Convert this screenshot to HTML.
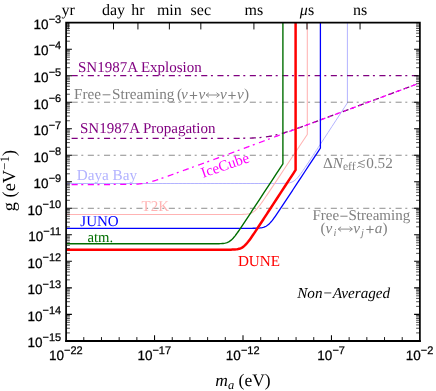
<!DOCTYPE html>
<html><head><meta charset="utf-8"><title>plot</title>
<style>html,body{margin:0;padding:0;background:#fff;}svg{display:block;will-change:transform;text-rendering:geometricPrecision;}text{font-family:"Liberation Serif",serif;}.tk{font-family:"Liberation Sans",sans-serif;font-size:13.5px;fill:#000;stroke:#000;stroke-width:0.25px;}.sup{font-size:11px;}</style></head><body>
<svg width="436" height="391" viewBox="0 0 436 391">
<rect width="436" height="391" fill="#fff"/>
<defs><clipPath id="c"><rect x="66.1" y="22.65" width="353.79999999999995" height="318.24"/></clipPath></defs>
<g clip-path="url(#c)" fill="none" stroke-linejoin="miter">
<path d="M66.10,183.50 L70.10,183.50 L74.10,183.50 L78.10,183.50 L82.10,183.50 L86.10,183.50 L90.10,183.50 L94.10,183.50 L98.10,183.50 L102.10,183.50 L106.10,183.50 L110.10,183.50 L114.10,183.50 L118.10,183.50 L122.10,183.50 L126.10,183.50 L130.10,183.50 L134.10,183.50 L138.10,183.50 L142.10,183.50 L146.10,183.50 L150.10,183.50 L154.10,183.50 L158.10,183.50 L162.10,183.50 L166.10,183.50 L170.10,183.50 L174.10,183.50 L178.10,183.50 L182.10,183.50 L186.10,183.50 L190.10,183.50 L194.10,183.50 L198.10,183.50 L202.10,183.50 L206.10,183.50 L210.10,183.50 L214.10,183.50 L218.10,183.50 L222.10,183.50 L226.10,183.50 L230.10,183.50 L234.10,183.50 L238.10,183.50 L242.10,183.50 L246.10,183.50 L250.10,183.50 L254.10,183.50 L258.10,183.50 L262.10,183.50 L266.10,183.50 L270.10,183.50 L271.10,183.50 L272.10,183.50 L273.10,183.50 L274.10,183.50 L275.10,183.49 L276.10,183.49 L277.10,183.49 L278.10,183.49 L279.10,183.48 L280.10,183.47 L281.10,183.46 L282.10,183.44 L283.10,183.42 L284.10,183.39 L285.10,183.34 L286.10,183.28 L287.10,183.19 L288.10,183.07 L289.10,182.91 L290.10,182.68 L291.10,182.38 L292.10,182.00 L293.10,181.50 L294.10,180.88 L295.10,180.13 L296.10,179.25 L297.10,178.24 L298.10,177.13 L299.10,175.92 L300.10,174.63 L301.10,173.28 L302.10,171.88 L303.10,170.44 L304.10,168.98 L305.10,167.50 L306.10,166.00 L307.10,164.50 L308.10,162.99 L309.10,161.47 L310.10,159.95 L311.10,158.42 L312.10,156.90 L313.10,155.37 L314.10,153.84 L315.10,152.32 L316.10,150.79 L317.10,149.26 L318.10,147.73 L319.10,146.20 L320.10,144.67 L324.10,138.55 L328.10,132.43 L332.10,126.31 L336.10,120.19 L340.10,114.07 L344.10,107.95 L347.40,102.90 L347.40,22.65" stroke="#b3b3ff" stroke-width="1.0"/>
<path d="M66.10,214.50 L70.10,214.50 L74.10,214.50 L78.10,214.50 L82.10,214.50 L86.10,214.50 L90.10,214.50 L94.10,214.50 L98.10,214.50 L102.10,214.50 L106.10,214.50 L110.10,214.50 L114.10,214.50 L118.10,214.50 L122.10,214.50 L126.10,214.50 L130.10,214.50 L134.10,214.50 L138.10,214.50 L142.10,214.50 L146.10,214.50 L150.10,214.50 L154.10,214.50 L158.10,214.50 L162.10,214.50 L166.10,214.50 L170.10,214.50 L174.10,214.50 L178.10,214.50 L182.10,214.50 L186.10,214.50 L190.10,214.50 L194.10,214.50 L198.10,214.50 L202.10,214.50 L206.10,214.50 L210.10,214.50 L214.10,214.50 L218.10,214.50 L222.10,214.50 L226.10,214.50 L230.10,214.50 L231.10,214.50 L232.10,214.50 L233.10,214.50 L234.10,214.50 L235.10,214.49 L236.10,214.49 L237.10,214.49 L238.10,214.48 L239.10,214.47 L240.10,214.46 L241.10,214.45 L242.10,214.42 L243.10,214.39 L244.10,214.35 L245.10,214.30 L246.10,214.21 L247.10,214.10 L248.10,213.95 L249.10,213.75 L250.10,213.48 L251.10,213.13 L252.10,212.67 L253.10,212.10 L254.10,211.41 L255.10,210.59 L256.10,209.65 L257.10,208.60 L258.10,207.44 L259.10,206.20 L260.10,204.90 L261.10,203.54 L262.10,202.14 L263.10,200.72 L264.10,199.27 L265.10,197.81 L266.10,196.33 L267.10,194.85 L268.10,193.36 L269.10,191.86 L270.10,190.37 L271.10,188.87 L272.10,187.37 L273.10,185.86 L274.10,184.36 L275.10,182.86 L276.10,181.35 L277.10,179.85 L278.10,178.34 L279.10,176.84 L283.10,170.82 L287.10,164.80 L291.10,158.78 L295.10,152.76 L299.10,146.74 L303.10,140.72 L307.10,134.70 L307.30,134.40 L307.30,22.65" stroke="#ffb3b3" stroke-width="1.05"/>
<path d="M66.1,102.21 H419.9" stroke="#808080" stroke-width="0.9" stroke-dasharray="2 4.5 6.1 3.6" stroke-dashoffset="1"/>
<path d="M66.1,155.25 H419.9" stroke="#808080" stroke-width="0.9" stroke-dasharray="2 4.5 6.1 3.6" stroke-dashoffset="1"/>
<path d="M66.1,208.29 H419.9" stroke="#808080" stroke-width="0.9" stroke-dasharray="2 4.5 6.1 3.6" stroke-dashoffset="1"/>
<path d="M66.1,75.69 H419.9" stroke="#800080" stroke-width="1.3" stroke-dasharray="2 4.5 6.1 3.6" stroke-dashoffset="1"/>
<path d="M66.10,138.40 L67.10,138.40 L68.10,138.40 L69.10,138.40 L70.10,138.40 L71.10,138.40 L72.10,138.40 L73.10,138.40 L74.10,138.40 L75.10,138.40 L76.10,138.40 L77.10,138.40 L78.10,138.40 L79.10,138.40 L80.10,138.40 L81.10,138.40 L82.10,138.40 L83.10,138.40 L84.10,138.40 L85.10,138.40 L86.10,138.40 L87.10,138.40 L88.10,138.40 L89.10,138.40 L90.10,138.40 L91.10,138.40 L92.10,138.40 L93.10,138.40 L94.10,138.40 L95.10,138.40 L96.10,138.40 L97.10,138.40 L98.10,138.40 L99.10,138.40 L100.10,138.40 L101.10,138.40 L102.10,138.40 L103.10,138.40 L104.10,138.40 L105.10,138.40 L106.10,138.40 L107.10,138.40 L108.10,138.40 L109.10,138.40 L110.10,138.40 L111.10,138.40 L112.10,138.40 L113.10,138.40 L114.10,138.40 L115.10,138.40 L116.10,138.40 L117.10,138.40 L118.10,138.40 L119.10,138.40 L120.10,138.40 L121.10,138.40 L122.10,138.40 L123.10,138.40 L124.10,138.40 L125.10,138.40 L126.10,138.40 L127.10,138.40 L128.10,138.40 L129.10,138.40 L130.10,138.40 L131.10,138.40 L132.10,138.40 L133.10,138.40 L134.10,138.40 L135.10,138.40 L136.10,138.40 L137.10,138.40 L138.10,138.40 L139.10,138.40 L140.10,138.40 L141.10,138.40 L142.10,138.40 L143.10,138.40 L144.10,138.40 L145.10,138.40 L146.10,138.40 L147.10,138.40 L148.10,138.40 L149.10,138.40 L150.10,138.40 L151.10,138.40 L152.10,138.40 L153.10,138.40 L154.10,138.40 L155.10,138.40 L156.10,138.40 L157.10,138.40 L158.10,138.40 L159.10,138.40 L160.10,138.40 L161.10,138.40 L162.10,138.40 L163.10,138.40 L164.10,138.40 L165.10,138.40 L166.10,138.40 L167.10,138.40 L168.10,138.40 L169.10,138.40 L170.10,138.40 L171.10,138.40 L172.10,138.40 L173.10,138.40 L174.10,138.40 L175.10,138.40 L176.10,138.40 L177.10,138.40 L178.10,138.40 L179.10,138.40 L180.10,138.40 L181.10,138.40 L182.10,138.40 L183.10,138.40 L184.10,138.40 L185.10,138.40 L186.10,138.40 L187.10,138.40 L188.10,138.40 L189.10,138.40 L190.10,138.40 L191.10,138.40 L192.10,138.40 L193.10,138.40 L194.10,138.40 L195.10,138.40 L196.10,138.40 L197.10,138.40 L198.10,138.40 L199.10,138.40 L200.10,138.40 L201.10,138.40 L202.10,138.40 L203.10,138.40 L204.10,138.40 L205.10,138.40 L206.10,138.40 L207.10,138.40 L208.10,138.40 L209.10,138.40 L210.10,138.40 L211.10,138.40 L212.10,138.40 L213.10,138.40 L214.10,138.39 L215.10,138.39 L216.10,138.39 L217.10,138.39 L218.10,138.39 L219.10,138.39 L220.10,138.39 L221.10,138.39 L222.10,138.39 L223.10,138.38 L224.10,138.38 L225.10,138.38 L226.10,138.38 L227.10,138.38 L228.10,138.37 L229.10,138.37 L230.10,138.37 L231.10,138.36 L232.10,138.36 L233.10,138.35 L234.10,138.35 L235.10,138.34 L236.10,138.33 L237.10,138.33 L238.10,138.32 L239.10,138.31 L240.10,138.30 L241.10,138.29 L242.10,138.27 L243.10,138.26 L244.10,138.24 L245.10,138.22 L246.10,138.20 L247.10,138.18 L248.10,138.15 L249.10,138.13 L250.10,138.09 L251.10,138.06 L252.10,138.02 L253.10,137.98 L254.10,137.93 L255.10,137.88 L256.10,137.82 L257.10,137.76 L258.10,137.69 L259.10,137.62 L260.10,137.53 L261.10,137.44 L262.10,137.35 L263.10,137.24 L264.10,137.13 L265.10,137.00 L266.10,136.87 L267.10,136.73 L268.10,136.57 L269.10,136.41 L270.10,136.24 L271.10,136.05 L272.10,135.86 L273.10,135.65 L274.10,135.44 L275.10,135.21 L276.10,134.98 L277.10,134.73 L278.10,134.48 L279.10,134.21 L280.10,133.94 L281.10,133.66 L282.10,133.37 L283.10,133.08 L284.10,132.78 L285.10,132.47 L286.10,132.16 L287.10,131.84 L288.10,131.52 L289.10,131.19 L290.10,130.86 L291.10,130.52 L292.10,130.18 L293.10,129.84 L294.10,129.49 L295.10,129.15 L296.10,128.80 L297.10,128.44 L298.10,128.09 L299.10,127.73 L300.10,127.38 L301.10,127.02 L302.10,126.66 L303.10,126.29 L304.10,125.93 L305.10,125.57 L306.10,125.20 L307.10,124.84 L308.10,124.47 L309.10,124.11 L310.10,123.74 L311.10,123.37 L312.10,123.00 L313.10,122.64 L314.10,122.27 L315.10,121.90 L316.10,121.53 L317.10,121.16 L318.10,120.79 L319.10,120.42 L320.10,120.05 L321.10,119.68 L322.10,119.31 L323.10,118.94 L324.10,118.57 L325.10,118.20 L326.10,117.83 L327.10,117.46 L328.10,117.09 L329.10,116.71 L330.10,116.34 L331.10,115.97 L332.10,115.60 L333.10,115.23 L334.10,114.86 L335.10,114.49 L336.10,114.12 L337.10,113.75 L338.10,113.37 L339.10,113.00 L340.10,112.63 L341.10,112.26 L342.10,111.89 L343.10,111.52 L344.10,111.15 L345.10,110.77 L346.10,110.40 L347.10,110.03 L348.10,109.66 L349.10,109.29 L350.10,108.92 L351.10,108.55 L352.10,108.17 L353.10,107.80 L354.10,107.43 L355.10,107.06 L356.10,106.69 L357.10,106.32 L358.10,105.95 L359.10,105.57 L360.10,105.20 L361.10,104.83 L362.10,104.46 L363.10,104.09 L364.10,103.72 L365.10,103.35 L366.10,102.97 L367.10,102.60 L368.10,102.23 L369.10,101.86 L370.10,101.49 L371.10,101.12 L372.10,100.74 L373.10,100.37 L374.10,100.00 L375.10,99.63 L376.10,99.26 L377.10,98.89 L378.10,98.52 L379.10,98.14 L380.10,97.77 L381.10,97.40 L382.10,97.03 L383.10,96.66 L384.10,96.29 L385.10,95.92 L386.10,95.54 L387.10,95.17 L388.10,94.80 L389.10,94.43 L390.10,94.06 L391.10,93.69 L392.10,93.31 L393.10,92.94 L394.10,92.57 L395.10,92.20 L396.10,91.83 L397.10,91.46 L398.10,91.09 L399.10,90.71 L400.10,90.34 L401.10,89.97 L402.10,89.60 L403.10,89.23 L404.10,88.86 L405.10,88.49 L406.10,88.11 L407.10,87.74 L408.10,87.37 L409.10,87.00 L410.10,86.63 L411.10,86.26 L412.10,85.88 L413.10,85.51 L414.10,85.14 L415.10,84.77 L416.10,84.40 L417.10,84.03 L418.10,83.66 L419.10,83.28" stroke="#800080" stroke-width="1.3" stroke-dasharray="2 4.5 6.1 3.6" stroke-dashoffset="1"/>
<path d="M66.10,184.50 L67.10,184.50 L68.10,184.50 L69.10,184.50 L70.10,184.50 L71.10,184.50 L72.10,184.50 L73.10,184.50 L74.10,184.50 L75.10,184.50 L76.10,184.50 L77.10,184.50 L78.10,184.50 L79.10,184.50 L80.10,184.50 L81.10,184.50 L82.10,184.50 L83.10,184.50 L84.10,184.50 L85.10,184.50 L86.10,184.50 L87.10,184.50 L88.10,184.50 L89.10,184.50 L90.10,184.50 L91.10,184.50 L92.10,184.50 L93.10,184.50 L94.10,184.50 L95.10,184.50 L96.10,184.50 L97.10,184.50 L98.10,184.50 L99.10,184.50 L100.10,184.50 L101.10,184.50 L102.10,184.50 L103.10,184.50 L104.10,184.50 L105.10,184.50 L106.10,184.50 L107.10,184.50 L108.10,184.50 L109.10,184.50 L110.10,184.50 L111.10,184.50 L112.10,184.50 L113.10,184.50 L114.10,184.49 L115.10,184.49 L116.10,184.49 L117.10,184.49 L118.10,184.49 L119.10,184.49 L120.10,184.48 L121.10,184.48 L122.10,184.47 L123.10,184.47 L124.10,184.46 L125.10,184.46 L126.10,184.45 L127.10,184.44 L128.10,184.42 L129.10,184.41 L130.10,184.39 L131.10,184.36 L132.10,184.34 L133.10,184.31 L134.10,184.27 L135.10,184.22 L136.10,184.17 L137.10,184.11 L138.10,184.03 L139.10,183.95 L140.10,183.85 L141.10,183.74 L142.10,183.62 L143.10,183.47 L144.10,183.31 L145.10,183.14 L146.10,182.95 L147.10,182.74 L148.10,182.51 L149.10,182.27 L150.10,182.01 L151.10,181.74 L152.10,181.46 L153.10,181.16 L154.10,180.86 L155.10,180.55 L156.10,180.23 L157.10,179.90 L158.10,179.57 L159.10,179.23 L160.10,178.89 L161.10,178.54 L162.10,178.19 L163.10,177.84 L164.10,177.49 L165.10,177.14 L166.10,176.78 L167.10,176.42 L168.10,176.07 L169.10,175.71 L170.10,175.35 L171.10,174.99 L172.10,174.63 L173.10,174.27 L174.10,173.90 L175.10,173.54 L176.10,173.18 L177.10,172.82 L178.10,172.46 L179.10,172.09 L180.10,171.73 L181.10,171.37 L182.10,171.01 L183.10,170.64 L184.10,170.28 L185.10,169.92 L186.10,169.55 L187.10,169.19 L188.10,168.83 L189.10,168.47 L190.10,168.10 L191.10,167.74 L192.10,167.38 L193.10,167.01 L194.10,166.65 L195.10,166.29 L196.10,165.93 L197.10,165.56 L198.10,165.20 L199.10,164.84 L200.10,164.47 L201.10,164.11 L202.10,163.75 L203.10,163.38 L204.10,163.02 L205.10,162.66 L206.10,162.30 L207.10,161.93 L208.10,161.57 L209.10,161.21 L210.10,160.84 L211.10,160.48 L212.10,160.12 L213.10,159.75 L214.10,159.39 L215.10,159.03 L216.10,158.67 L217.10,158.30 L218.10,157.94 L219.10,157.58 L220.10,157.21 L221.10,156.84 L222.10,156.47 L223.10,156.10 L224.10,155.73 L225.10,155.36 L226.10,154.98 L227.10,154.61 L228.10,154.24 L229.10,153.87 L230.10,153.50 L231.10,153.13 L232.10,152.75 L233.10,152.38 L234.10,152.01 L235.10,151.64 L236.10,151.27 L237.10,150.90 L238.10,150.53 L239.10,150.15 L240.10,149.78 L241.10,149.41 L242.10,149.04 L243.10,148.67 L244.10,148.30 L245.10,147.93 L246.10,147.55 L247.10,147.18 L248.10,146.81 L249.10,146.44 L250.10,146.07 L251.10,145.70 L252.10,145.32 L253.10,144.95 L254.10,144.58 L255.10,144.21 L256.10,143.84 L257.10,143.47 L258.10,143.10 L259.10,142.72 L260.10,142.35 L261.10,141.98 L262.10,141.61 L263.10,141.24 L264.10,140.87 L265.10,140.50 L266.10,140.12 L267.10,139.75 L268.10,139.38 L269.10,139.01 L270.10,138.64 L271.10,138.27 L272.10,137.89 L273.10,137.52 L274.10,137.15 L275.10,136.78 L276.10,136.41 L277.10,136.04 L278.10,135.67 L279.10,135.29 L280.10,134.92 L281.10,134.55 L282.10,134.18 L283.10,133.81 L284.10,133.44 L285.10,133.07 L286.10,132.69 L287.10,132.32 L288.10,131.95 L289.10,131.58 L290.10,131.21 L291.10,130.84 L292.10,130.46 L293.10,130.09 L294.10,129.72 L295.10,129.35 L296.10,128.98 L297.10,128.61 L298.10,128.24 L299.10,127.86 L300.10,127.49 L301.10,127.12 L302.10,126.75 L303.10,126.38 L304.10,126.01 L305.10,125.64 L306.10,125.26 L307.10,124.89 L308.10,124.52 L309.10,124.15 L310.10,123.78 L311.10,123.41 L312.10,123.03 L313.10,122.66 L314.10,122.29 L315.10,121.92 L316.10,121.55 L317.10,121.18 L318.10,120.81 L319.10,120.43 L320.10,120.06 L321.10,119.69 L322.10,119.32 L323.10,118.95 L324.10,118.58 L325.10,118.21 L326.10,117.83 L327.10,117.46 L328.10,117.09 L329.10,116.72 L330.10,116.35 L331.10,115.98 L332.10,115.60 L333.10,115.23 L334.10,114.86 L335.10,114.49 L336.10,114.12 L337.10,113.75 L338.10,113.38 L339.10,113.00 L340.10,112.63 L341.10,112.26 L342.10,111.89 L343.10,111.52 L344.10,111.15 L345.10,110.78 L346.10,110.40 L347.10,110.03 L348.10,109.66 L349.10,109.29 L350.10,108.92 L351.10,108.55 L352.10,108.17 L353.10,107.80 L354.10,107.43 L355.10,107.06 L356.10,106.69 L357.10,106.32 L358.10,105.95 L359.10,105.57 L360.10,105.20 L361.10,104.83 L362.10,104.46 L363.10,104.09 L364.10,103.72 L365.10,103.35 L366.10,102.97 L367.10,102.60 L368.10,102.23 L369.10,101.86 L370.10,101.49 L371.10,101.12 L372.10,100.74 L373.10,100.37 L374.10,100.00 L375.10,99.63 L376.10,99.26 L377.10,98.89 L378.10,98.52 L379.10,98.14 L380.10,97.77 L381.10,97.40 L382.10,97.03 L383.10,96.66 L384.10,96.29 L385.10,95.92 L386.10,95.54 L387.10,95.17 L388.10,94.80 L389.10,94.43 L390.10,94.06 L391.10,93.69 L392.10,93.31 L393.10,92.94 L394.10,92.57 L395.10,92.20 L396.10,91.83 L397.10,91.46 L398.10,91.09 L399.10,90.71 L400.10,90.34 L401.10,89.97 L402.10,89.60 L403.10,89.23 L404.10,88.86 L405.10,88.49 L406.10,88.11 L407.10,87.74 L408.10,87.37 L409.10,87.00 L410.10,86.63 L411.10,86.26 L412.10,85.88 L413.10,85.51 L414.10,85.14 L415.10,84.77 L416.10,84.40 L417.10,84.03 L418.10,83.66 L419.10,83.28" stroke="#ff00ff" stroke-width="1.25" stroke-dasharray="2 4.5 6.1 3.6" stroke-dashoffset="1"/>
<path d="M66.10,228.30 L70.10,228.30 L74.10,228.30 L78.10,228.30 L82.10,228.30 L86.10,228.30 L90.10,228.30 L94.10,228.30 L98.10,228.30 L102.10,228.30 L106.10,228.30 L110.10,228.30 L114.10,228.30 L118.10,228.30 L122.10,228.30 L126.10,228.30 L130.10,228.30 L134.10,228.30 L138.10,228.30 L142.10,228.30 L146.10,228.30 L150.10,228.30 L154.10,228.30 L158.10,228.30 L162.10,228.30 L166.10,228.30 L170.10,228.30 L174.10,228.30 L178.10,228.30 L182.10,228.30 L186.10,228.30 L190.10,228.30 L194.10,228.30 L198.10,228.30 L202.10,228.30 L206.10,228.30 L210.10,228.30 L214.10,228.30 L218.10,228.30 L222.10,228.30 L226.10,228.30 L230.10,228.30 L234.10,228.30 L238.10,228.30 L242.10,228.30 L246.10,228.30 L247.10,228.30 L248.10,228.29 L249.10,228.29 L250.10,228.29 L251.10,228.28 L252.10,228.28 L253.10,228.27 L254.10,228.26 L255.10,228.24 L256.10,228.21 L257.10,228.18 L258.10,228.13 L259.10,228.06 L260.10,227.97 L261.10,227.84 L262.10,227.67 L263.10,227.43 L264.10,227.12 L265.10,226.72 L266.10,226.21 L267.10,225.57 L268.10,224.81 L269.10,223.92 L270.10,222.90 L271.10,221.78 L272.10,220.57 L273.10,219.28 L274.10,217.93 L275.10,216.53 L276.10,215.10 L277.10,213.65 L278.10,212.18 L279.10,210.69 L280.10,209.20 L281.10,207.69 L282.10,206.19 L283.10,204.67 L284.10,203.16 L285.10,201.65 L286.10,200.13 L287.10,198.61 L288.10,197.09 L289.10,195.57 L290.10,194.05 L291.10,192.53 L292.10,191.02 L293.10,189.50 L297.10,183.42 L301.10,177.34 L305.10,171.26 L309.10,165.18 L313.10,159.10 L317.10,153.02 L320.40,148.00 L320.40,22.65" stroke="#0000ff" stroke-width="1.3"/>
<path d="M66.10,243.80 L70.10,243.80 L74.10,243.80 L78.10,243.80 L82.10,243.80 L86.10,243.80 L90.10,243.80 L94.10,243.80 L98.10,243.80 L102.10,243.80 L106.10,243.80 L110.10,243.80 L114.10,243.80 L118.10,243.80 L122.10,243.80 L126.10,243.80 L130.10,243.80 L134.10,243.80 L138.10,243.80 L142.10,243.80 L146.10,243.80 L150.10,243.80 L154.10,243.80 L158.10,243.80 L162.10,243.80 L166.10,243.80 L170.10,243.80 L174.10,243.80 L178.10,243.80 L182.10,243.80 L186.10,243.80 L190.10,243.80 L194.10,243.80 L198.10,243.80 L202.10,243.80 L206.10,243.80 L207.10,243.80 L208.10,243.80 L209.10,243.80 L210.10,243.80 L211.10,243.79 L212.10,243.79 L213.10,243.79 L214.10,243.78 L215.10,243.78 L216.10,243.77 L217.10,243.75 L218.10,243.74 L219.10,243.71 L220.10,243.67 L221.10,243.62 L222.10,243.55 L223.10,243.46 L224.10,243.32 L225.10,243.14 L226.10,242.89 L227.10,242.57 L228.10,242.15 L229.10,241.61 L230.10,240.96 L231.10,240.17 L232.10,239.25 L233.10,238.22 L234.10,237.08 L235.10,235.84 L236.10,234.54 L237.10,233.18 L238.10,231.77 L239.10,230.33 L240.10,228.87 L241.10,227.39 L242.10,225.90 L243.10,224.40 L244.10,222.89 L245.10,221.38 L246.10,219.86 L247.10,218.35 L248.10,216.83 L249.10,215.30 L250.10,213.78 L251.10,212.26 L252.10,210.74 L253.10,209.21 L254.10,207.69 L255.10,206.17 L256.10,204.64 L260.10,198.55 L264.10,192.45 L268.10,186.36 L272.10,180.26 L276.10,174.16 L280.10,168.07 L282.90,163.80 L282.90,22.65" stroke="#006e00" stroke-width="1.4"/>
<path d="M66.10,249.70 L70.10,249.70 L74.10,249.70 L78.10,249.70 L82.10,249.70 L86.10,249.70 L90.10,249.70 L94.10,249.70 L98.10,249.70 L102.10,249.70 L106.10,249.70 L110.10,249.70 L114.10,249.70 L118.10,249.70 L122.10,249.70 L126.10,249.70 L130.10,249.70 L134.10,249.70 L138.10,249.70 L142.10,249.70 L146.10,249.70 L150.10,249.70 L154.10,249.70 L158.10,249.70 L162.10,249.70 L166.10,249.70 L170.10,249.70 L174.10,249.70 L178.10,249.70 L182.10,249.70 L186.10,249.70 L190.10,249.70 L194.10,249.70 L198.10,249.70 L202.10,249.70 L206.10,249.70 L210.10,249.70 L214.10,249.70 L218.10,249.70 L222.10,249.70 L223.10,249.70 L224.10,249.69 L225.10,249.69 L226.10,249.69 L227.10,249.68 L228.10,249.68 L229.10,249.67 L230.10,249.66 L231.10,249.64 L232.10,249.61 L233.10,249.58 L234.10,249.53 L235.10,249.46 L236.10,249.37 L237.10,249.23 L238.10,249.06 L239.10,248.82 L240.10,248.50 L241.10,248.08 L242.10,247.56 L243.10,246.91 L244.10,246.13 L245.10,245.21 L246.10,244.18 L247.10,243.04 L248.10,241.81 L249.10,240.50 L250.10,239.14 L251.10,237.73 L252.10,236.29 L253.10,234.83 L254.10,233.34 L255.10,231.85 L256.10,230.34 L257.10,228.83 L258.10,227.31 L259.10,225.79 L260.10,224.27 L261.10,222.74 L262.10,221.21 L263.10,219.69 L264.10,218.16 L265.10,216.63 L266.10,215.10 L267.10,213.58 L268.10,212.05 L269.10,210.52 L273.10,204.40 L277.10,198.29 L281.10,192.17 L285.10,186.05 L289.10,179.94 L293.10,173.82 L295.60,170.00 L295.60,22.65" stroke="#ff0000" stroke-width="2.5"/>
</g>
<text x="78.0" y="71.7" font-size="15.0" fill="#800080" text-anchor="start" >SN1987A Explosion</text>
<text x="74.0" y="98.5" font-size="15.2" fill="#808080" text-anchor="start" >Free</text>
<rect x="102.6" y="94.3" width="7.8" height="1.0" fill="#808080"/>
<text x="112.0" y="98.5" font-size="15.2" fill="#808080" text-anchor="start" >Streaming</text>
<text x="176.9" y="98.5" font-size="15.2" fill="#808080" text-anchor="start" >(</text>
<text x="243.9" y="98.5" font-size="15.2" fill="#808080" text-anchor="start" >)</text>
<text x="181.0" y="98.5" font-size="15.2" fill="#808080" text-anchor="start" ><tspan font-style="italic">ν</tspan></text>
<path d="M189.8,95.5 H197.2 M193.5,91.8 V99.2" stroke="#808080" stroke-width="1.1" fill="none"/>
<text x="198.5" y="98.5" font-size="15.2" fill="#808080" text-anchor="start" ><tspan font-style="italic">ν</tspan></text>
<path d="M206.3,95.0 H219.2 M209.0,92.7 L206.10000000000002,95.0 L209.0,97.3 M216.5,92.7 L219.39999999999998,95.0 L216.5,97.3" stroke="#808080" stroke-width="0.9" fill="none" stroke-linejoin="miter"/>
<text x="220.0" y="98.5" font-size="15.2" fill="#808080" text-anchor="start" ><tspan font-style="italic">ν</tspan></text>
<path d="M228.3,95.5 H235.7 M232.0,91.8 V99.2" stroke="#808080" stroke-width="1.1" fill="none"/>
<text x="237.0" y="98.5" font-size="15.2" fill="#808080" text-anchor="start" ><tspan font-style="italic">ν</tspan></text>
<text x="80.0" y="132.6" font-size="15.0" fill="#800080" text-anchor="start" >SN1987A Propagation</text>
<text x="76.7" y="179.6" font-size="15.2" fill="#b3b3ff" text-anchor="start" >Daya Bay</text>
<text x="141.6" y="211.0" font-size="15.0" fill="#ffb3b3" text-anchor="start" >T2K</text>
<text x="80.3" y="226.2" font-size="15.0" fill="#0000ff" text-anchor="start" >JUNO</text>
<text x="87.5" y="241.9" font-size="14.7" fill="#006e00" text-anchor="start" >atm.</text>
<text x="237.9" y="266.3" font-size="15.2" fill="#ff0000" text-anchor="start" >DUNE</text>
<text x="0" y="0" font-size="15.0" fill="#ff00ff" text-anchor="start" transform="translate(203,178) rotate(-19)">IceCube</text>
<text x="323.0" y="167.8" font-size="15.2" fill="#808080" text-anchor="start" >Δ<tspan font-style="italic">N</tspan><tspan font-size="11.6" dy="2.3">eff</tspan></text>
<path d="M364.9,160.2 L358.2,162.8 L364.9,165.3 M357.3,167.8 C358.2,166.2 359.6,165.8 360.9,166.6 S363.4,168.3 364.9,166.5" stroke="#808080" stroke-width="0.9" fill="none"/>
<text x="366.2" y="167.8" font-size="15.2" fill="#808080" text-anchor="start" >0.52</text>
<text x="312.5" y="219.9" font-size="15.0" fill="#808080" text-anchor="start" >Free</text>
<rect x="340.3" y="215.7" width="7.3" height="1.0" fill="#808080"/>
<text x="348.5" y="219.9" font-size="15.0" fill="#808080" text-anchor="start" >Streaming</text>
<text x="320.6" y="233.2" font-size="15.2" fill="#808080" text-anchor="start" >(</text>
<text x="325.5" y="233.2" font-size="15.2" fill="#808080" text-anchor="start" ><tspan font-style="italic">ν</tspan></text>
<text x="333.6" y="236.0" font-size="10.5" fill="#808080" text-anchor="start" ><tspan font-style="italic">i</tspan></text>
<path d="M338.4,229.1 H352.2 M341.09999999999997,226.79999999999998 L338.2,229.1 L341.09999999999997,231.4 M349.5,226.79999999999998 L352.4,229.1 L349.5,231.4" stroke="#808080" stroke-width="0.9" fill="none" stroke-linejoin="miter"/>
<text x="353.2" y="233.2" font-size="15.2" fill="#808080" text-anchor="start" ><tspan font-style="italic">ν</tspan></text>
<text x="361.0" y="236.0" font-size="10.5" fill="#808080" text-anchor="start" ><tspan font-style="italic">j</tspan></text>
<path d="M366.3,229.5 H373.7 M370.0,225.8 V233.2" stroke="#808080" stroke-width="1.1" fill="none"/>
<text x="374.8" y="233.2" font-size="15.2" fill="#808080" text-anchor="start" ><tspan font-style="italic">a</tspan></text>
<text x="382.6" y="233.2" font-size="15.2" fill="#808080" text-anchor="start" >)</text>
<text x="343.7" y="298" font-size="15.2" fill="#000" text-anchor="middle" font-style="italic">Non−Averaged</text>
<g stroke="#000" fill="none">
<path d="M66.1,341.89 V22.65 H419.90 V341.89" stroke-width="1.7" stroke-linejoin="miter"/>
<path d="M65.25,340.94 H420.75" stroke-width="1.95"/>
<path d="M66.1,41.19 h3.8 M419.90,41.19 h-3.8" stroke-width="0.7"/>
<path d="M66.1,36.52 h3.8 M419.90,36.52 h-3.8" stroke-width="0.7"/>
<path d="M66.1,33.20 h3.8 M419.90,33.20 h-3.8" stroke-width="0.7"/>
<path d="M66.1,30.63 h3.8 M419.90,30.63 h-3.8" stroke-width="0.7"/>
<path d="M66.1,28.53 h3.8 M419.90,28.53 h-3.8" stroke-width="0.7"/>
<path d="M66.1,26.76 h3.8 M419.90,26.76 h-3.8" stroke-width="0.7"/>
<path d="M66.1,25.22 h3.8 M419.90,25.22 h-3.8" stroke-width="0.7"/>
<path d="M66.1,23.86 h3.8 M419.90,23.86 h-3.8" stroke-width="0.7"/>
<path d="M66.1,49.17 h5.8 M419.90,49.17 h-5.8" stroke-width="1.05"/>
<path d="M66.1,67.71 h3.8 M419.90,67.71 h-3.8" stroke-width="0.7"/>
<path d="M66.1,63.04 h3.8 M419.90,63.04 h-3.8" stroke-width="0.7"/>
<path d="M66.1,59.72 h3.8 M419.90,59.72 h-3.8" stroke-width="0.7"/>
<path d="M66.1,57.15 h3.8 M419.90,57.15 h-3.8" stroke-width="0.7"/>
<path d="M66.1,55.05 h3.8 M419.90,55.05 h-3.8" stroke-width="0.7"/>
<path d="M66.1,53.28 h3.8 M419.90,53.28 h-3.8" stroke-width="0.7"/>
<path d="M66.1,51.74 h3.8 M419.90,51.74 h-3.8" stroke-width="0.7"/>
<path d="M66.1,50.38 h3.8 M419.90,50.38 h-3.8" stroke-width="0.7"/>
<path d="M66.1,75.69 h5.8 M419.90,75.69 h-5.8" stroke-width="1.05"/>
<path d="M66.1,94.23 h3.8 M419.90,94.23 h-3.8" stroke-width="0.7"/>
<path d="M66.1,89.56 h3.8 M419.90,89.56 h-3.8" stroke-width="0.7"/>
<path d="M66.1,86.24 h3.8 M419.90,86.24 h-3.8" stroke-width="0.7"/>
<path d="M66.1,83.67 h3.8 M419.90,83.67 h-3.8" stroke-width="0.7"/>
<path d="M66.1,81.57 h3.8 M419.90,81.57 h-3.8" stroke-width="0.7"/>
<path d="M66.1,79.80 h3.8 M419.90,79.80 h-3.8" stroke-width="0.7"/>
<path d="M66.1,78.26 h3.8 M419.90,78.26 h-3.8" stroke-width="0.7"/>
<path d="M66.1,76.90 h3.8 M419.90,76.90 h-3.8" stroke-width="0.7"/>
<path d="M66.1,102.21 h5.8 M419.90,102.21 h-5.8" stroke-width="1.05"/>
<path d="M66.1,120.75 h3.8 M419.90,120.75 h-3.8" stroke-width="0.7"/>
<path d="M66.1,116.08 h3.8 M419.90,116.08 h-3.8" stroke-width="0.7"/>
<path d="M66.1,112.76 h3.8 M419.90,112.76 h-3.8" stroke-width="0.7"/>
<path d="M66.1,110.19 h3.8 M419.90,110.19 h-3.8" stroke-width="0.7"/>
<path d="M66.1,108.09 h3.8 M419.90,108.09 h-3.8" stroke-width="0.7"/>
<path d="M66.1,106.32 h3.8 M419.90,106.32 h-3.8" stroke-width="0.7"/>
<path d="M66.1,104.78 h3.8 M419.90,104.78 h-3.8" stroke-width="0.7"/>
<path d="M66.1,103.42 h3.8 M419.90,103.42 h-3.8" stroke-width="0.7"/>
<path d="M66.1,128.73 h5.8 M419.90,128.73 h-5.8" stroke-width="1.05"/>
<path d="M66.1,147.27 h3.8 M419.90,147.27 h-3.8" stroke-width="0.7"/>
<path d="M66.1,142.60 h3.8 M419.90,142.60 h-3.8" stroke-width="0.7"/>
<path d="M66.1,139.28 h3.8 M419.90,139.28 h-3.8" stroke-width="0.7"/>
<path d="M66.1,136.71 h3.8 M419.90,136.71 h-3.8" stroke-width="0.7"/>
<path d="M66.1,134.61 h3.8 M419.90,134.61 h-3.8" stroke-width="0.7"/>
<path d="M66.1,132.84 h3.8 M419.90,132.84 h-3.8" stroke-width="0.7"/>
<path d="M66.1,131.30 h3.8 M419.90,131.30 h-3.8" stroke-width="0.7"/>
<path d="M66.1,129.94 h3.8 M419.90,129.94 h-3.8" stroke-width="0.7"/>
<path d="M66.1,155.25 h5.8 M419.90,155.25 h-5.8" stroke-width="1.05"/>
<path d="M66.1,173.79 h3.8 M419.90,173.79 h-3.8" stroke-width="0.7"/>
<path d="M66.1,169.12 h3.8 M419.90,169.12 h-3.8" stroke-width="0.7"/>
<path d="M66.1,165.80 h3.8 M419.90,165.80 h-3.8" stroke-width="0.7"/>
<path d="M66.1,163.23 h3.8 M419.90,163.23 h-3.8" stroke-width="0.7"/>
<path d="M66.1,161.13 h3.8 M419.90,161.13 h-3.8" stroke-width="0.7"/>
<path d="M66.1,159.36 h3.8 M419.90,159.36 h-3.8" stroke-width="0.7"/>
<path d="M66.1,157.82 h3.8 M419.90,157.82 h-3.8" stroke-width="0.7"/>
<path d="M66.1,156.46 h3.8 M419.90,156.46 h-3.8" stroke-width="0.7"/>
<path d="M66.1,181.77 h5.8 M419.90,181.77 h-5.8" stroke-width="1.05"/>
<path d="M66.1,200.31 h3.8 M419.90,200.31 h-3.8" stroke-width="0.7"/>
<path d="M66.1,195.64 h3.8 M419.90,195.64 h-3.8" stroke-width="0.7"/>
<path d="M66.1,192.32 h3.8 M419.90,192.32 h-3.8" stroke-width="0.7"/>
<path d="M66.1,189.75 h3.8 M419.90,189.75 h-3.8" stroke-width="0.7"/>
<path d="M66.1,187.65 h3.8 M419.90,187.65 h-3.8" stroke-width="0.7"/>
<path d="M66.1,185.88 h3.8 M419.90,185.88 h-3.8" stroke-width="0.7"/>
<path d="M66.1,184.34 h3.8 M419.90,184.34 h-3.8" stroke-width="0.7"/>
<path d="M66.1,182.98 h3.8 M419.90,182.98 h-3.8" stroke-width="0.7"/>
<path d="M66.1,208.29 h5.8 M419.90,208.29 h-5.8" stroke-width="1.05"/>
<path d="M66.1,226.83 h3.8 M419.90,226.83 h-3.8" stroke-width="0.7"/>
<path d="M66.1,222.16 h3.8 M419.90,222.16 h-3.8" stroke-width="0.7"/>
<path d="M66.1,218.84 h3.8 M419.90,218.84 h-3.8" stroke-width="0.7"/>
<path d="M66.1,216.27 h3.8 M419.90,216.27 h-3.8" stroke-width="0.7"/>
<path d="M66.1,214.17 h3.8 M419.90,214.17 h-3.8" stroke-width="0.7"/>
<path d="M66.1,212.40 h3.8 M419.90,212.40 h-3.8" stroke-width="0.7"/>
<path d="M66.1,210.86 h3.8 M419.90,210.86 h-3.8" stroke-width="0.7"/>
<path d="M66.1,209.50 h3.8 M419.90,209.50 h-3.8" stroke-width="0.7"/>
<path d="M66.1,234.81 h5.8 M419.90,234.81 h-5.8" stroke-width="1.05"/>
<path d="M66.1,253.35 h3.8 M419.90,253.35 h-3.8" stroke-width="0.7"/>
<path d="M66.1,248.68 h3.8 M419.90,248.68 h-3.8" stroke-width="0.7"/>
<path d="M66.1,245.36 h3.8 M419.90,245.36 h-3.8" stroke-width="0.7"/>
<path d="M66.1,242.79 h3.8 M419.90,242.79 h-3.8" stroke-width="0.7"/>
<path d="M66.1,240.69 h3.8 M419.90,240.69 h-3.8" stroke-width="0.7"/>
<path d="M66.1,238.92 h3.8 M419.90,238.92 h-3.8" stroke-width="0.7"/>
<path d="M66.1,237.38 h3.8 M419.90,237.38 h-3.8" stroke-width="0.7"/>
<path d="M66.1,236.02 h3.8 M419.90,236.02 h-3.8" stroke-width="0.7"/>
<path d="M66.1,261.33 h5.8 M419.90,261.33 h-5.8" stroke-width="1.05"/>
<path d="M66.1,279.87 h3.8 M419.90,279.87 h-3.8" stroke-width="0.7"/>
<path d="M66.1,275.20 h3.8 M419.90,275.20 h-3.8" stroke-width="0.7"/>
<path d="M66.1,271.88 h3.8 M419.90,271.88 h-3.8" stroke-width="0.7"/>
<path d="M66.1,269.31 h3.8 M419.90,269.31 h-3.8" stroke-width="0.7"/>
<path d="M66.1,267.21 h3.8 M419.90,267.21 h-3.8" stroke-width="0.7"/>
<path d="M66.1,265.44 h3.8 M419.90,265.44 h-3.8" stroke-width="0.7"/>
<path d="M66.1,263.90 h3.8 M419.90,263.90 h-3.8" stroke-width="0.7"/>
<path d="M66.1,262.54 h3.8 M419.90,262.54 h-3.8" stroke-width="0.7"/>
<path d="M66.1,287.85 h5.8 M419.90,287.85 h-5.8" stroke-width="1.05"/>
<path d="M66.1,306.39 h3.8 M419.90,306.39 h-3.8" stroke-width="0.7"/>
<path d="M66.1,301.72 h3.8 M419.90,301.72 h-3.8" stroke-width="0.7"/>
<path d="M66.1,298.40 h3.8 M419.90,298.40 h-3.8" stroke-width="0.7"/>
<path d="M66.1,295.83 h3.8 M419.90,295.83 h-3.8" stroke-width="0.7"/>
<path d="M66.1,293.73 h3.8 M419.90,293.73 h-3.8" stroke-width="0.7"/>
<path d="M66.1,291.96 h3.8 M419.90,291.96 h-3.8" stroke-width="0.7"/>
<path d="M66.1,290.42 h3.8 M419.90,290.42 h-3.8" stroke-width="0.7"/>
<path d="M66.1,289.06 h3.8 M419.90,289.06 h-3.8" stroke-width="0.7"/>
<path d="M66.1,314.37 h5.8 M419.90,314.37 h-5.8" stroke-width="1.05"/>
<path d="M66.1,332.91 h3.8 M419.90,332.91 h-3.8" stroke-width="0.7"/>
<path d="M66.1,328.24 h3.8 M419.90,328.24 h-3.8" stroke-width="0.7"/>
<path d="M66.1,324.92 h3.8 M419.90,324.92 h-3.8" stroke-width="0.7"/>
<path d="M66.1,322.35 h3.8 M419.90,322.35 h-3.8" stroke-width="0.7"/>
<path d="M66.1,320.25 h3.8 M419.90,320.25 h-3.8" stroke-width="0.7"/>
<path d="M66.1,318.48 h3.8 M419.90,318.48 h-3.8" stroke-width="0.7"/>
<path d="M66.1,316.94 h3.8 M419.90,316.94 h-3.8" stroke-width="0.7"/>
<path d="M66.1,315.58 h3.8 M419.90,315.58 h-3.8" stroke-width="0.7"/>
<path d="M83.79,340.89 v-3.8" stroke-width="0.9"/>
<path d="M101.48,340.89 v-3.8" stroke-width="0.9"/>
<path d="M119.17,340.89 v-3.8" stroke-width="0.9"/>
<path d="M136.86,340.89 v-3.8" stroke-width="0.9"/>
<path d="M154.55,340.89 v-5.6" stroke-width="1.05"/>
<path d="M172.24,340.89 v-3.8" stroke-width="0.9"/>
<path d="M189.93,340.89 v-3.8" stroke-width="0.9"/>
<path d="M207.62,340.89 v-3.8" stroke-width="0.9"/>
<path d="M225.31,340.89 v-3.8" stroke-width="0.9"/>
<path d="M243.00,340.89 v-5.6" stroke-width="1.05"/>
<path d="M260.69,340.89 v-3.8" stroke-width="0.9"/>
<path d="M278.38,340.89 v-3.8" stroke-width="0.9"/>
<path d="M296.07,340.89 v-3.8" stroke-width="0.9"/>
<path d="M313.76,340.89 v-3.8" stroke-width="0.9"/>
<path d="M331.45,340.89 v-5.6" stroke-width="1.05"/>
<path d="M349.14,340.89 v-3.8" stroke-width="0.9"/>
<path d="M366.83,340.89 v-3.8" stroke-width="0.9"/>
<path d="M384.52,340.89 v-3.8" stroke-width="0.9"/>
<path d="M402.21,340.89 v-3.8" stroke-width="0.9"/>
<path d="M68.18,22.65 v6.8" stroke-width="0.95"/>
<path d="M113.51,22.65 v6.8" stroke-width="0.95"/>
<path d="M137.93,22.65 v6.8" stroke-width="0.95"/>
<path d="M169.38,22.65 v6.8" stroke-width="0.95"/>
<path d="M200.84,22.65 v6.8" stroke-width="0.95"/>
<path d="M253.91,22.65 v6.8" stroke-width="0.95"/>
<path d="M306.98,22.65 v6.8" stroke-width="0.95"/>
<path d="M360.05,22.65 v6.8" stroke-width="0.95"/>
</g>
<text x="68.18" y="14.9" font-size="16" fill="#000" text-anchor="middle" >yr</text>
<text x="113.51" y="14.9" font-size="16" fill="#000" text-anchor="middle" >day</text>
<text x="137.93" y="14.9" font-size="16" fill="#000" text-anchor="middle" >hr</text>
<text x="169.38" y="14.9" font-size="16" fill="#000" text-anchor="middle" >min</text>
<text x="200.84" y="14.9" font-size="16" fill="#000" text-anchor="middle" >sec</text>
<text x="253.91" y="14.9" font-size="16" fill="#000" text-anchor="middle" >ms</text>
<text x="306.98" y="14.9" font-size="16" fill="#000" text-anchor="middle" ><tspan font-style="italic">μ</tspan>s</text>
<text x="360.05" y="14.9" font-size="16" fill="#000" text-anchor="middle" >ns</text>
<text class="tk" x="61.20" y="28.95" text-anchor="end">10<tspan class="sup" dy="-6.2">−3</tspan></text>
<text class="tk" x="61.20" y="55.47" text-anchor="end">10<tspan class="sup" dy="-6.2">−4</tspan></text>
<text class="tk" x="61.20" y="81.99" text-anchor="end">10<tspan class="sup" dy="-6.2">−5</tspan></text>
<text class="tk" x="61.20" y="108.51" text-anchor="end">10<tspan class="sup" dy="-6.2">−6</tspan></text>
<text class="tk" x="61.20" y="135.03" text-anchor="end">10<tspan class="sup" dy="-6.2">−7</tspan></text>
<text class="tk" x="61.20" y="161.55" text-anchor="end">10<tspan class="sup" dy="-6.2">−8</tspan></text>
<text class="tk" x="61.20" y="188.07" text-anchor="end">10<tspan class="sup" dy="-6.2">−9</tspan></text>
<text class="tk" x="61.20" y="214.59" text-anchor="end">10<tspan class="sup" dy="-6.2">−10</tspan></text>
<text class="tk" x="61.20" y="241.11" text-anchor="end">10<tspan class="sup" dy="-6.2">−11</tspan></text>
<text class="tk" x="61.20" y="267.63" text-anchor="end">10<tspan class="sup" dy="-6.2">−12</tspan></text>
<text class="tk" x="61.20" y="294.15" text-anchor="end">10<tspan class="sup" dy="-6.2">−13</tspan></text>
<text class="tk" x="61.20" y="320.67" text-anchor="end">10<tspan class="sup" dy="-6.2">−14</tspan></text>
<text class="tk" x="61.20" y="347.19" text-anchor="end">10<tspan class="sup" dy="-6.2">−15</tspan></text>
<text class="tk" x="65.80" y="360.20" text-anchor="middle">10<tspan class="sup" dy="-6.2">−22</tspan></text>
<text class="tk" x="154.25" y="360.20" text-anchor="middle">10<tspan class="sup" dy="-6.2">−17</tspan></text>
<text class="tk" x="242.70" y="360.20" text-anchor="middle">10<tspan class="sup" dy="-6.2">−12</tspan></text>
<text class="tk" x="331.15" y="360.20" text-anchor="middle">10<tspan class="sup" dy="-6.2">−7</tspan></text>
<text class="tk" x="419.60" y="360.20" text-anchor="middle">10<tspan class="sup" dy="-6.2">−2</tspan></text>
<text x="243" y="385.5" font-size="17.5" text-anchor="middle" fill="#000"><tspan font-style="italic">m</tspan><tspan font-style="italic" font-size="12.5" dy="3">a</tspan><tspan dy="-3"> (eV)</tspan></text>
<text font-size="18.4" text-anchor="middle" fill="#000" transform="translate(15.0,180.6) rotate(-90)">g (eV<tspan font-size="13" dy="-6.3">−1</tspan><tspan dy="6.3">)</tspan></text>
</svg></body></html>
